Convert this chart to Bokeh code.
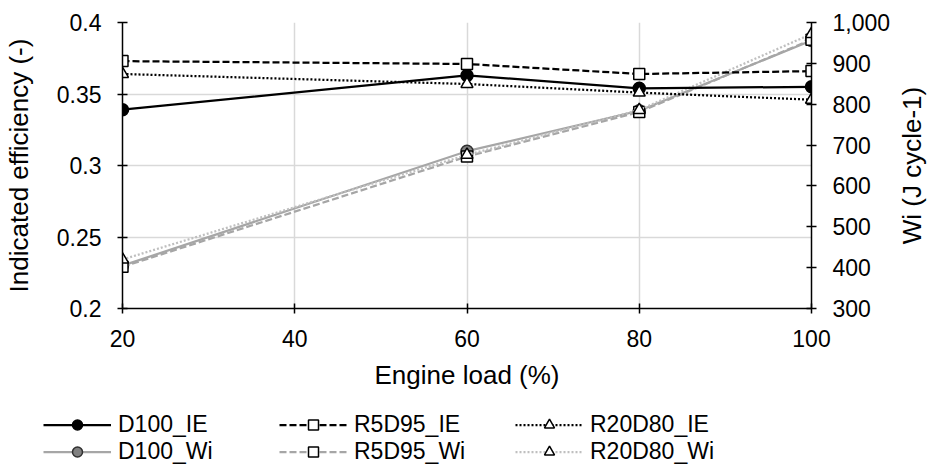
from bokeh.plotting import figure
from bokeh.layouts import column, row
from bokeh.models import (Range1d, LinearAxis, FixedTicker, NumeralTickFormatter,
                          Legend, LegendItem)
from bokeh.embed import file_html
from bokeh.resources import INLINE

# ---- data ----
load = [20, 60, 80, 100]
ie_d100 = [0.339, 0.363, 0.354, 0.355]
ie_r5d95 = [0.373, 0.371, 0.364, 0.366]
ie_r20d80 = [0.364, 0.357, 0.351, 0.346]
wi_d100 = [405, 685, 784, 956]
wi_r5d95 = [402, 672, 781, 958]
wi_r20d80 = [420, 676, 786, 972]
x_ticks = [20, 40, 60, 80, 100]
ie_ticks = [0.2, 0.25, 0.3, 0.35, 0.4]
wi_ticks = [300, 400, 500, 600, 700, 800, 900, 1000]
labels = ["D100_IE", "R5D95_IE", "R20D80_IE", "D100_Wi", "R5D95_Wi", "R20D80_Wi"]

FONT = "Liberation Sans"
GRAY = "#a6a6a6"
W = 931
SIDE_W = 38
TOP, BOTTOM, H = 22, 100, 408

p = figure(width=W - SIDE_W, height=H, output_backend="svg", toolbar_location=None,
           x_range=Range1d(20, 100), y_range=Range1d(0.2, 0.4),
           min_border_left=112, min_border_right=82, min_border_top=TOP,
           min_border_bottom=BOTTOM)
p.outline_line_color = None
p.extra_y_ranges = {"wi": Range1d(300, 1000)}

# grids
p.xgrid.ticker = FixedTicker(ticks=x_ticks)
p.ygrid.ticker = FixedTicker(ticks=ie_ticks)
for g in (p.xgrid, p.ygrid):
    g.grid_line_color = "#d9d9d9"
    g.grid_line_width = 1.5

# axes styling
def style_axis(ax):
    ax.axis_line_color = "black"
    ax.axis_line_width = 1.5
    ax.major_tick_line_color = "black"
    ax.major_tick_line_width = 1.5
    ax.minor_tick_line_color = None
    ax.major_tick_in = 5
    ax.major_tick_out = 5
    ax.major_label_standoff = 16
    ax.major_label_text_font = FONT
    ax.major_label_text_font_size = "23px"
    ax.major_label_text_color = "black"
    ax.axis_label_text_font = FONT
    ax.axis_label_text_font_size = "26px"
    ax.axis_label_text_font_style = "normal"
    ax.axis_label_text_color = "black"

xa = p.xaxis[0]
xa.ticker = FixedTicker(ticks=x_ticks)
xa.axis_label = "Engine load (%)"
style_axis(xa)
xa.axis_label_standoff = 10

ya = p.yaxis[0]
ya.ticker = FixedTicker(ticks=ie_ticks)
ya.formatter = NumeralTickFormatter(format="0.[00]")
ya.axis_label = "Indicated efficiency (-)"
style_axis(ya)
ya.axis_label_standoff = 20

# secondary axis (ticks and numbers)
ra = LinearAxis(y_range_name="wi", ticker=FixedTicker(ticks=wi_ticks),
                formatter=NumeralTickFormatter(format="0,0"))
style_axis(ra)
p.add_layout(ra, "right")

# ---- series ----
def series(fig, x, y, color, dash, marker, fill, size, line_color="black", yr="default"):
    kw = {} if yr == "default" else {"y_range_name": yr}
    ln = fig.line(x, y, line_color=color, line_width=2.25, line_dash=dash, **kw)
    mk = fig.scatter(x, y, marker=marker, size=size, fill_color=fill,
                     line_color=line_color, line_width=1.5, **kw)
    return [ln, mk]

styles = {
    "D100_Wi": (GRAY, "solid", "circle", "#808080", 12, "#303030"),
    "R5D95_Wi": (GRAY, "7 3", "square", "white", 11, "black"),
    "R20D80_Wi": ("#bfbfbf", "2 2", "triangle", "white", 12, "black"),
    "D100_IE": ("black", "solid", "circle", "black", 12, "black"),
    "R5D95_IE": ("black", "7 3", "square", "white", 11, "black"),
    "R20D80_IE": ("black", "2 2", "triangle", "white", 12, "black"),
}
data = {
    "D100_IE": ie_d100, "R5D95_IE": ie_r5d95, "R20D80_IE": ie_r20d80,
    "D100_Wi": wi_d100, "R5D95_Wi": wi_r5d95, "R20D80_Wi": wi_r20d80,
}
for name in ["D100_Wi", "R5D95_Wi", "R20D80_Wi"]:
    series(p, load, data[name], *styles[name], yr="wi")
for name in ["D100_IE", "R5D95_IE", "R20D80_IE"]:
    series(p, load, data[name], *styles[name])

# ---- narrow strip to the right carrying the secondary axis title (reads bottom-to-top) ----
side = figure(width=SIDE_W, height=H, output_backend="svg", toolbar_location=None,
              x_axis_type=None, x_range=Range1d(0, 1), y_range=Range1d(300, 1000),
              min_border_left=0, min_border_right=0, min_border_top=TOP,
              min_border_bottom=BOTTOM)
side.outline_line_color = None
side.grid.visible = False
sa = side.yaxis[0]
style_axis(sa)
sa.ticker = FixedTicker(ticks=[300])
sa.major_label_overrides = {300: ""}
sa.axis_line_color = None
sa.major_tick_line_color = None
sa.major_tick_in = 0
sa.major_tick_out = 0
sa.major_label_standoff = 0
sa.axis_label = "Wi (J cycle-1)"
sa.axis_label_standoff = 0

# ---- legend strip: separate figure, its copies of the series lie outside its ranges ----
lg = figure(width=W, height=58, output_backend="svg", toolbar_location=None,
            x_axis_type=None, y_axis_type=None,
            x_range=Range1d(0, 1), y_range=Range1d(0, 1),
            min_border=0, min_border_left=0, min_border_right=0,
            min_border_top=0, min_border_bottom=0)
lg.outline_line_color = None
lg.grid.visible = False

order = ["D100_IE", "D100_Wi", "R5D95_IE", "R5D95_Wi", "R20D80_IE", "R20D80_Wi"]
items = []
for name in order:
    rs = series(lg, load, data[name], *styles[name])
    items.append(LegendItem(label=name, renderers=rs))

legend = Legend(items=items, orientation="vertical", nrows=2,
                location=(43, 1),
                glyph_width=68, glyph_height=25, label_standoff=7,
                label_width=161, spacing=0, padding=0, margin=0,
                label_text_font=FONT, label_text_font_size="23px",
                label_text_color="black",
                border_line_color=None, background_fill_alpha=0)
lg.add_layout(legend, "center")

layout = column(row(p, side, spacing=0), row(lg), spacing=0)
open("out.html", "w").write(file_html(layout, INLINE))
